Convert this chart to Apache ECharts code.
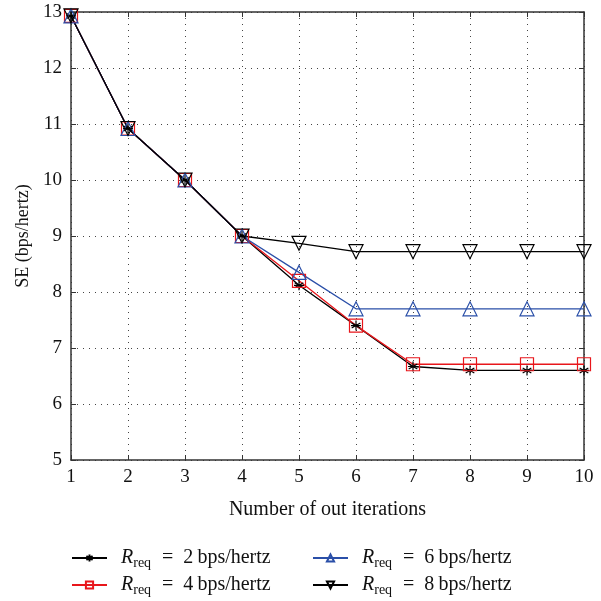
<!DOCTYPE html>
<html><head><meta charset="utf-8">
<script src="https://cdn.jsdelivr.net/npm/echarts@6/dist/echarts.min.js"></script>
<style>html,body{margin:0;padding:0;background:#fff}#c{width:601px;height:601px}</style>
</head><body><div id="c"></div>
<script>
const iterations = [1,2,3,4,5,6,7,8,9,10];
const se2 = [12.93,10.92,10.0,9.0,8.12,7.40,6.67,6.60,6.60,6.60];
const se4 = [12.93,10.92,10.0,9.0,8.20,7.40,6.71,6.71,6.71,6.71];
const se6 = [12.93,10.92,10.0,9.0,8.35,7.70,7.70,7.70,7.70,7.70];
const se8 = [12.93,10.92,10.0,9.0,8.87,8.72,8.72,8.72,8.72,8.72];
const names = ['2','4','6','8'];

const FONT = 'Liberation Serif';
const ast = 'path://M0,-10L0,10M-8.66,-5L8.66,5M-8.66,5L8.66,-5M-10,0L10,0';
const pair = (arr) => iterations.map((x,i)=>[x,arr[i]]);
const legName = n => 'R' + n;
function mk(arr, n, color, symbol, size, rotate){
  return {
    name: legName(n), type:'line', data: pair(arr),
    symbol: symbol, symbolSize: size, symbolRotate: rotate||0, symbolKeepAspect:true,
    lineStyle:{color: color, width:1.3},
    itemStyle:{color: symbol===ast ? color : 'rgba(255,255,255,0)', borderColor: color, borderWidth:1.2},
    emphasis:{disabled:true}, animation:false, showAllSymbol:true
  };
}
const axisCommon = { type:'value', min:1, max:10, interval:1 };
const option = {
  backgroundColor:'#fff',
  animation:false,
  grid:{left:71, right:17, top:12, bottom:141},
  xAxis:[{
    ...axisCommon, position:'bottom',
    name:'Number of out iterations', nameLocation:'middle', nameGap:40,
    nameTextStyle:{fontFamily:FONT, fontSize:20, color:'#111'},
    axisLine:{lineStyle:{color:'#333', width:1.5}},
    axisTick:{inside:true, length:5, lineStyle:{color:'#333'}},
    axisLabel:{fontFamily:FONT, fontSize:19, color:'#111', margin:8},
    splitLine:{show:true, lineStyle:{color:'#444', type:[1,5], width:1}}
  },{
    ...axisCommon, position:'top',
    axisLine:{show:true, onZero:false, lineStyle:{color:'#333', width:1.5}},
    axisTick:{inside:true, length:5, lineStyle:{color:'#333'}},
    axisLabel:{show:false}, splitLine:{show:false}
  }],
  yAxis:[{
    type:'value', min:5, max:13, interval:1, position:'left',
    name:'SE (bps/hertz)', nameLocation:'middle', nameGap:39, nameRotate:90,
    nameTextStyle:{fontFamily:FONT, fontSize:18, color:'#111'},
    axisLine:{show:true, lineStyle:{color:'#333', width:1.5}},
    axisTick:{show:true, inside:true, length:5, lineStyle:{color:'#333'}},
    axisLabel:{fontFamily:FONT, fontSize:19, color:'#111', margin:9},
    splitLine:{show:true, lineStyle:{color:'#444', type:[1,5], width:1}}
  },{
    type:'value', min:5, max:13, interval:1, position:'right',
    axisLine:{show:true, onZero:false, lineStyle:{color:'#333', width:1.5}},
    axisTick:{show:true, inside:true, length:5, lineStyle:{color:'#333'}},
    axisLabel:{show:false}, splitLine:{show:false}
  }],
  legend:[0,1].map(col=>({
    orient:'vertical', left: col===0 ? 66 : 307, top: 543, height: 80, width: 240,
    data: col===0 ? [legName('2'), legName('4')] : [legName('6'), legName('8')],
    itemWidth:35, itemHeight:9, itemGap:5,
    formatter: nm => '{r|R}{s|req}{t|  =  ' + nm.slice(1) + '\u2009bps/hertz}',
    textStyle:{
      fontFamily:FONT, color:'#111',
      rich:{
        r:{fontFamily:FONT, fontStyle:'italic', fontSize:20, color:'#111', padding:[0,0,0,9], verticalAlign:'middle'},
        s:{fontFamily:FONT, fontSize:14, color:'#111', padding:[10,1,0,0], verticalAlign:'middle'},
        t:{fontFamily:FONT, fontSize:20, color:'#111', verticalAlign:'middle'}
      }
    }
  })),
  series:[
    mk(se2,'2','#000',ast,10),
    mk(se4,'4','#e8161b','rect',13),
    mk(se6,'6','#2a4fa8','triangle',14),
    mk(se8,'8','#000','triangle',14,180)
  ]
};
const chart = echarts.init(document.getElementById('c'), null, {renderer:'canvas'});
chart.setOption(option);
</script></body></html>
